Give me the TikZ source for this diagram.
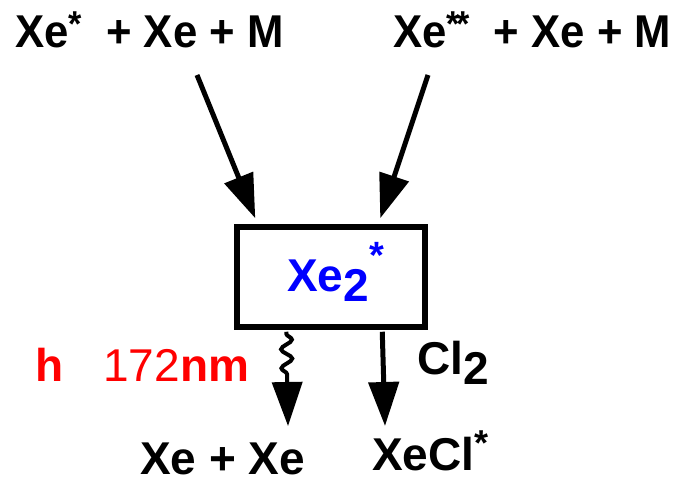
\documentclass[tikz,border=0pt]{standalone}
\usepackage{fontspec}
\setmainfont{Liberation Sans}
\newfontfamily\narrowf[FakeStretch=0.95]{Liberation Sans}
\usetikzlibrary{arrows.meta,decorations.pathmorphing,calc}
\definecolor{xblue}{RGB}{0,0,255}
\definecolor{xred}{RGB}{255,0,0}
\newcommand{\bigtxt}{\fontsize{46}{50}\selectfont\bfseries}
\newcommand{\supstar}{\raisebox{0.22em}{\fontsize{36}{36}\selectfont *}}
\begin{document}
\begin{tikzpicture}[x=1pt,y=-1pt,
  lbl/.style={inner sep=0pt,anchor=base west,font=\bigtxt},
  toplbl/.style={inner sep=0pt,anchor=base west,font=\narrowf\bigtxt},
  arr/.style={line width=5pt,-{Triangle[length=44pt,width=30pt]}},
  boxst/.style={draw,line width=5.5pt,minimum width=188pt,minimum height=100pt,inner sep=0pt}]
\useasboundingbox (0,0) rectangle (692,482);
\node[toplbl] (t1) at (15,47) {Xe\supstar\ \ + Xe + M};
\node[toplbl] (t2) at (393,47) {Xe\supstar\kern-0.08em\supstar\ \ + Xe + M};
\node[boxst] (box) at (331,277) {};
\node[inner sep=0pt,anchor=base west,text=xblue,font=\bigtxt] (xe2) at (287,291)
  {Xe\raisebox{-0.22em}{2}\raisebox{0.5em}{\fontsize{38}{38}\selectfont *}};
\coordinate (s1) at (197,75);
\coordinate (s2) at (428,75);
\coordinate (e1) at ($(box.north west)+(21,-6)$);
\coordinate (e2) at ($(box.north west)+(146,-6)$);
\draw[arr] (s1) -- (e1);
\draw[arr] (s2) -- (e2);
\coordinate (w0) at ($(box.south west)+(52,2)$);
\coordinate (w1) at (288,426);
\coordinate (c0) at ($(box.south west)+(148,2)$);
\coordinate (c1) at (385,426);
\draw[arr,line width=4pt,decorate,decoration={snake,amplitude=5.5pt,segment length=19pt,pre length=2pt,post length=44pt}] (w0) -- (w1);
\draw[arr] (c0) -- (c1);
\node[inner sep=0pt,anchor=base west,text=xred,font=\fontsize{46}{50}\selectfont] (hnu) at (35,381)
  {\textbf{h}\hspace{40pt}{\mdseries 172}\textbf{nm}};
\node[lbl] (cl2) at (417,374) {Cl\raisebox{-0.22em}{2}};
\node[lbl] (p1) at (140,474) {Xe + Xe};
\node[lbl] (p2) at (372,470) {XeCl\raisebox{0.1em}{\supstar}};
\end{tikzpicture}
\end{document}
